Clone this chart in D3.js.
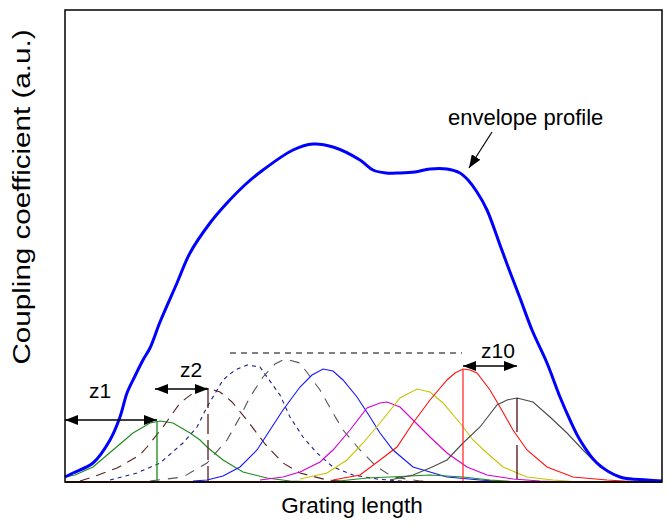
<!DOCTYPE html>
<html>
<head>
<meta charset="utf-8">
<script src="https://cdn.jsdelivr.net/npm/d3@7"></script>
<style>
  html, body { margin: 0; padding: 0; background: #fff; }
  svg { display: block; font-family: "Liberation Sans", Arial, Helvetica, sans-serif; }
</style>
</head>
<body>
<svg id="chart" width="668" height="525"></svg>
<script>
// Grating length (arbitrary units) vs. coupling coefficient (a.u.)

// Overall envelope of the coupling-coefficient profile
const envelope = [
  [0,0.5],[0.8,0.9],[2.8,1.9],[4.5,4.2],[5.5,6.5],[6.2,8.9],[7.0,10.6],[7.8,12.2],
  [8.5,13.4],[9.5,16.0],[11.2,19.9],[12.5,22.9],[14.5,25.9],[16.2,27.9],[18.2,29.9],
  [19.8,31.2],[22.8,33.2],[24.8,33.8],[26.8,33.5],[29.5,32.2],[30.8,31.2],[32.1,30.9],
  [33.5,30.9],[35.0,31.0],[36.5,31.3],[38.2,31.3],[39.5,30.9],[40.3,30.2],[41.2,29.0],
  [42.2,27.2],[43.5,23.7],[44.5,21.0],[45.5,18.4],[46.7,15.2],[48.2,11.9],[49.5,8.5],
  [50.5,6.2],[51.5,4.2],[53.2,1.9],[55.5,0.5],[58.2,0.2],[59.7,0.1]
];

// Individual sub-grating profiles
const comp1 = [[0,0.5],[1.0,0.7],[2.8,1.5],[4.8,3.2],[6.8,4.9],[8.5,5.9],[9.5,6.1],[10.8,5.9],
  [12.5,4.9],[13.5,4.2],[14.2,3.5],[15.8,2.2],[17.8,1.0],[20.2,0.4],[22.5,0.1],[25.5,0]];
const comp2 = [[1.5,0.1],[2.8,0.5],[5.2,1.4],[7.5,2.7],[8.2,3.5],[9.8,5.5],[11.5,7.9],[13.2,9.2],
  [14.3,9.4],[15.5,9.0],[16.7,8.0],[18.2,6.2],[20.0,3.8],[21.8,1.9],[23.5,0.9],[26.2,0.2],[29.0,0]];
const comp3 = [[4.5,0.2],[7.2,0.9],[9.5,1.9],[11.8,3.9],[13.2,5.5],[14.2,7.5],[15.8,10.2],[17.0,11.2],
  [18.2,11.7],[19.5,11.5],[20.2,10.5],[21.5,8.7],[22.5,6.5],[23.8,4.5],[25.2,2.9],[26.8,1.5],
  [28.8,0.7],[31.2,0.3],[33.5,0.1],[35.5,0]];
const comp4 = [[8.5,0.1],[11.8,0.5],[14.2,1.9],[16.2,4.2],[17.5,6.5],[18.5,8.5],[19.8,10.5],[21.0,11.8],
  [22.0,12.3],[23.5,11.9],[25.5,9.2],[26.8,6.9],[27.8,5.2],[29.5,3.2],[31.2,1.5],[32.8,0.5],[35.5,0.1],[38,0]];
const comp5 = [[12.8,0.1],[14.2,0.2],[15.8,0.6],[17.5,1.5],[19.2,3.2],[20.5,5.2],[21.8,7.2],[23.5,9.5],
  [24.7,10.7],[25.8,11.3],[26.8,11.1],[27.8,10.2],[29.2,8.5],[30.5,6.5],[31.5,4.9],[32.8,3.2],
  [34.8,1.5],[38.2,0.5],[41.5,0.2],[44.5,0]];
const comp6 = [[19.5,0.2],[21.8,0.5],[23.5,1.0],[25.5,2.0],[26.8,3.2],[28.5,5.2],[30.2,7.4],[31.5,7.9],
  [32.2,8.0],[33.5,7.5],[34.8,6.2],[36.5,4.5],[38.2,2.9],[40.2,1.5],[42.2,0.7],[44.8,0.3],[47.5,0.1],[50.5,0]];
const comp7 = [[23.5,0.3],[26.2,0.9],[28.2,2.2],[29.8,3.9],[31.5,5.9],[33.5,8.4],[35.2,9.3],[36.5,9.0],
  [37.8,7.9],[39.5,5.9],[40.8,4.2],[42.2,2.9],[43.8,1.5],[46.2,0.5],[48.8,0.2],[51.5,0]];
const comp8 = [[26.5,0],[30.2,0.4],[32.5,0.5],[36.5,0.7],[39.8,0.5],[42.5,0.2],[45.5,0]];
const comp9 = [[26.8,0.2],[29.5,0.7],[31.5,2.2],[33.2,3.5],[34.8,5.9],[36.5,8.2],[38.2,10.2],[39.0,10.9],
  [39.8,11.3],[40.5,11.2],[41.2,10.9],[42.5,9.2],[43.5,7.5],[44.8,5.2],[46.2,3.2],[48.2,1.5],
  [50.8,0.5],[54.2,0.2],[57.5,0]];
const comp10 = [[32.5,0.2],[34.8,0.7],[36.5,1.4],[38.2,2.2],[39.8,3.9],[41.5,5.5],[43.2,7.7],[44.2,8.2],
  [45.2,8.4],[46.8,8.0],[48.5,6.5],[50.2,4.9],[51.8,3.2],[53.5,1.5],[55.5,0.5],[58.2,0.2],[59.7,0.1]];

// Centre markers of selected sub-gratings: [position, height]
const markers = [[9.2, 6.1], [14.3, 9.4], [39.8, 11.2], [45.2, 8.4]];

// Spacing arrows: [from, to, level], with labels
const spacings = [[0, 9.2, 6.2], [9.0, 14.3, 9.3], [39.8, 45.2, 11.6]];
const spacingLabels = ["z1", "z2", "z10"];
const labelPos = [[3.5, 8.4], [12.6, 10.5], [43.3, 12.4]];

// Reference level of the uniform section
const refLevel = [16.5, 39.7, 12.9];

const svg = d3.select("#chart");
const M = { left: 65, right: 662, top: 10, bottom: 482 };

const x = d3.scaleLinear().domain([0, 59.7]).range([M.left, M.right]);
const y = d3.scaleLinear().domain([0, 47.2]).range([M.bottom, M.top]);

const line = d3.line().x(d => x(d[0])).y(d => y(d[1])).curve(d3.curveLinear);
const smooth = d3.line().x(d => x(d[0])).y(d => y(d[1])).curve(d3.curveCatmullRom.alpha(0.5));

// Arrowhead markers
const defs = svg.append("defs");
defs.append("marker")
  .attr("id", "head").attr("viewBox", "0 0 13 10").attr("refX", 13).attr("refY", 5)
  .attr("markerWidth", 13).attr("markerHeight", 10).attr("markerUnits", "userSpaceOnUse")
  .attr("orient", "auto-start-reverse")
  .append("path").attr("d", "M0,0 L13,5 L0,10 Z").attr("fill", "#000");

const g = svg.append("g");

// Component curves
const comps = [
  { d: comp1, c: "#1a8a1a", dash: null },
  { d: comp2, c: "#5a1f1f", dash: "10,7" },
  { d: comp3, c: "#1c1c8c", dash: "4,4" },
  { d: comp4, c: "#555555", dash: "10,8" },
  { d: comp5, c: "#1414ff", dash: null },
  { d: comp6, c: "#d200d2", dash: null },
  { d: comp7, c: "#c8c400", dash: null },
  { d: comp8, c: "#1f8a1f", dash: null },
  { d: comp9, c: "#ff1010", dash: null },
  { d: comp10, c: "#4a4a4a", dash: null }
];
comps.forEach(k => {
  g.append("path").datum(k.d).attr("d", line)
    .attr("fill", "none").attr("stroke", k.c).attr("stroke-width", 1.1)
    .attr("stroke-dasharray", k.dash);
});

// Baseline along the bottom
g.append("line")
  .attr("x1", x(0)).attr("x2", x(59.7)).attr("y1", y(0)).attr("y2", y(0))
  .attr("stroke", "#6a2c1c").attr("stroke-width", 2.2);

// Centre markers
const markerStyles = [
  { c: "#1a8a1a", dash: null },
  { c: "#5a1f1f", dash: "20,6" },
  { c: "#ff3030", dash: null },
  { c: "#4a1010", dash: "34,13" }
];
markers.forEach((m, i) => {
  g.append("line")
    .attr("x1", x(m[0])).attr("x2", x(m[0])).attr("y1", y(m[1])).attr("y2", y(0))
    .attr("stroke", markerStyles[i].c).attr("stroke-width", 1.3)
    .attr("stroke-dasharray", markerStyles[i].dash);
});

// Envelope
g.append("path").datum(envelope).attr("d", smooth)
  .attr("fill", "none").attr("stroke", "#0000ff").attr("stroke-width", 3)
  .attr("stroke-linejoin", "round");

// Reference dashed level
g.append("line")
  .attr("x1", x(refLevel[0])).attr("x2", x(refLevel[1]))
  .attr("y1", y(refLevel[2])).attr("y2", y(refLevel[2]))
  .attr("stroke", "#000").attr("stroke-width", 1).attr("stroke-dasharray", "6,5");

// Spacing arrows and labels
spacings.forEach((s, i) => {
  g.append("line")
    .attr("x1", x(s[0])).attr("x2", x(s[1])).attr("y1", y(s[2])).attr("y2", y(s[2]))
    .attr("stroke", "#000").attr("stroke-width", 1.5)
    .attr("marker-start", "url(#head)").attr("marker-end", "url(#head)");
  g.append("text")
    .attr("x", x(labelPos[i][0])).attr("y", y(labelPos[i][1]))
    .attr("text-anchor", "middle").attr("font-size", 21).attr("fill", "#000")
    .text(spacingLabels[i]);
});

// Envelope annotation
g.append("text").attr("x", 448).attr("y", 125)
  .attr("font-size", 22).attr("fill", "#000").text("envelope profile");
g.append("line")
  .attr("x1", 492).attr("y1", 132).attr("x2", 469).attr("y2", 168)
  .attr("stroke", "#000").attr("stroke-width", 1.2)
  .attr("marker-end", "url(#head)");

// Frame
svg.append("rect")
  .attr("x", M.left).attr("y", M.top)
  .attr("width", M.right - M.left).attr("height", M.bottom - M.top)
  .attr("fill", "none").attr("stroke", "#000").attr("stroke-width", 1.5);

// Axis titles
svg.append("text")
  .attr("x", 352).attr("y", 513).attr("text-anchor", "middle")
  .attr("font-size", 22.5).attr("fill", "#000").text("Grating length");
svg.append("text")
  .attr("transform", "translate(30,197) rotate(-90)")
  .attr("text-anchor", "middle").attr("font-size", 23).attr("fill", "#000")
  .attr("textLength", 335).attr("lengthAdjust", "spacingAndGlyphs")
  .text("Coupling coefficient (a.u.)");
</script>
</body>
</html>
